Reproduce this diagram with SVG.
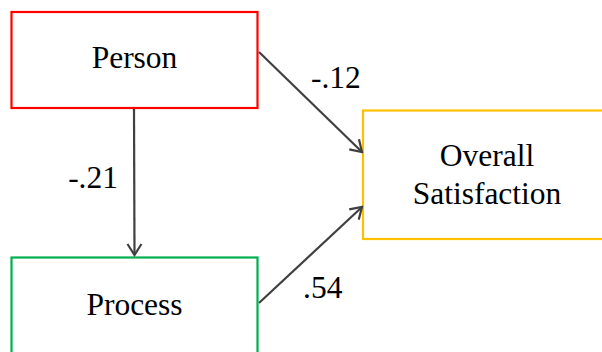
<svg xmlns="http://www.w3.org/2000/svg" width="602" height="352" viewBox="0 0 602 352">
<style>
text{font-family:"Liberation Serif","Times New Roman",serif;font-size:31.5px;fill:#000}
.box{fill:#fff;stroke-width:2.2}
.c{text-anchor:middle}
.edge{stroke:#404040;stroke-width:2.2;fill:none;marker-end:url(#arr)}
</style>
<defs>
<marker id="arr" markerUnits="userSpaceOnUse" viewBox="-14 -10 16 20" refX="0" refY="0" markerWidth="16" markerHeight="20" orient="auto">
<path d="M-11,-7 L0,0 L-11,7" fill="none" stroke="#404040" stroke-width="2.2"/>
</marker>
</defs>
<rect width="602" height="352" fill="#fff"/>
<g id="person">
<rect class="box" x="11.5" y="12" width="246" height="96" stroke="#FF0000"/>
<text class="c" x="134.5" y="68">Person</text>
</g>
<g id="overall">
<rect class="box" x="363" y="110.5" width="250" height="128.5" stroke="#FFC000"/>
<text class="c" x="487" y="166">Overall</text>
<text class="c" x="487" y="204">Satisfaction</text>
</g>
<g id="process">
<rect class="box" x="11.5" y="257.5" width="246" height="110" stroke="#00B050"/>
<text class="c" x="134.5" y="315">Process</text>
</g>
<g id="connectors">
<line class="edge" x1="134" y1="109" x2="134.5" y2="255"/>
<line class="edge" x1="259" y1="52" x2="362" y2="152"/>
<line class="edge" x1="259" y1="303" x2="362" y2="207"/>
<text x="118" y="188" text-anchor="end">-.21</text>
<text x="311" y="88">-.12</text>
<text x="303" y="298">.54</text>
</g>
</svg>
